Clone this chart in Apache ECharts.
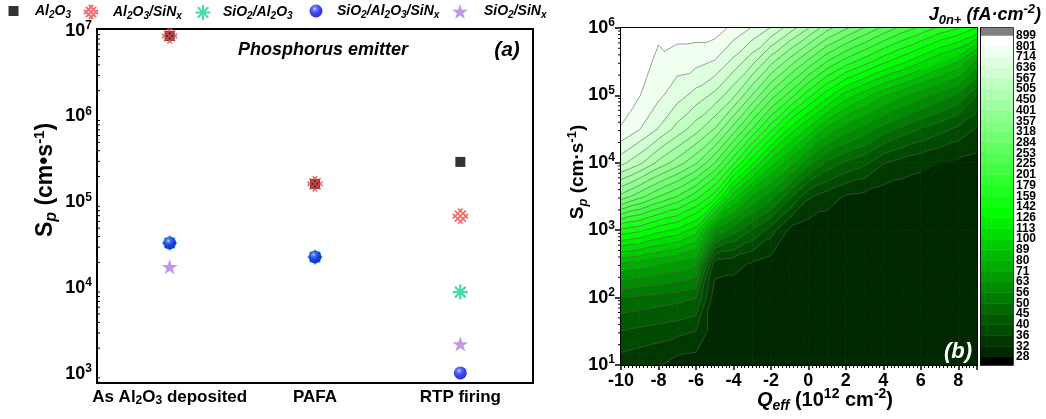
<!DOCTYPE html>
<html>
<head>
<meta charset="utf-8">
<title>Sp and J0n+ chart</title>
<script src="https://cdn.jsdelivr.net/npm/echarts@6.0.0/dist/echarts.min.js"></script>
<style>
html,body{margin:0;padding:0;background:#ffffff;}
#chart{width:1046px;height:419px;}
</style>
</head>
<body>
<div id="chart"></div>
<script>
// ---------------- Panel (a): surface recombination velocity by process step ----------------
const stages = ['As Al2O3 deposited', 'PAFA', 'RTP firing'];
const stackNames = ['Al2O3', 'Al2O3/SiNx', 'SiO2/Al2O3', 'SiO2/Al2O3/SiNx', 'SiO2/SiNx'];
const spAl2O3 = [8.7e6, 1.64e5, 2.96e5];
const spAl2O3SiNx = [8.7e6, 1.64e5, 6.9e4];
const spSiO2Al2O3 = [3.36e4, 2.31e4, 9.0e3];
const spSiO2Al2O3SiNx = [3.36e4, 2.31e4, 1.03e3];
const spSiO2SiNx = [1.77e4, null, 2.24e3];

// ---------------- Panel (b): J0n+ map over Qeff (1e12 cm^-2) and Sp (cm/s) ----------------
const qeffValues = [-10, -9, -8, -7, -6, -5, -4, -3, -2, -1, 0, 1, 2, 3, 4, 5, 6, 7, 8, 9];
const spGridValues = [10, 31.6, 100, 316, 1000, 3162, 10000, 31623, 100000, 316228, 1000000];
// one row per Sp value (bottom to top), one column per Qeff value; J0n+ in fA/cm2
const j0nRows = [
  [33.9, 33.1, 32.4, 30.2, 29.9, 29.5, 29.3, 29.2, 29.2, 29.2, 29.2, 29.2, 29.2, 29.2, 29.2, 29.2, 29.2, 29.2, 29.2, 29.2],
  [39.8, 38.9, 38.0, 37.2, 35.9, 29.7, 29.5, 29.3, 29.3, 29.2, 29.2, 29.2, 29.2, 29.2, 29.2, 29.2, 29.2, 29.2, 29.2, 29.2],
  [50.1, 49.0, 47.9, 46.8, 45.2, 29.9, 29.9, 29.7, 29.5, 29.3, 29.3, 29.2, 29.2, 29.2, 29.2, 29.2, 29.2, 29.2, 29.2, 29.2],
  [79.4, 75.9, 72.4, 69.2, 65.3, 33.9, 33.1, 31.6, 30.2, 29.7, 29.5, 29.3, 29.3, 29.2, 29.2, 29.2, 29.2, 29.2, 29.2, 29.2],
  [154.9, 146.2, 131.8, 123.0, 107.2, 63.1, 53.1, 44.7, 38.0, 31.3, 29.9, 29.5, 29.5, 29.3, 29.2, 29.2, 29.2, 29.2, 29.2, 29.2],
  [342.7, 295.1, 254.1, 223.9, 188.4, 149.6, 94.4, 70.8, 59.6, 46.2, 36.7, 33.9, 31.6, 30.9, 30.0, 29.7, 29.5, 29.3, 29.2, 29.2],
  [588.8, 518.8, 436.5, 380.2, 323.6, 254.1, 184.1, 130.3, 94.4, 75.9, 58.9, 49.0, 44.2, 41.2, 36.3, 34.3, 33.1, 32.0, 31.3, 30.6],
  [797.0, 716.1, 631.0, 543.3, 473.2, 398.1, 302.0, 223.9, 165.9, 123.0, 97.7, 77.6, 66.8, 60.3, 53.1, 48.4, 44.7, 41.7, 38.9, 35.5],
  [831.8, 803.5, 732.8, 668.3, 609.5, 549.5, 462.4, 354.8, 269.2, 213.8, 165.9, 131.8, 107.2, 93.3, 81.3, 73.3, 66.1, 60.3, 55.0, 45.2],
  [851.1, 841.4, 780.7, 749.9, 740.0, 707.9, 616.6, 524.8, 416.9, 338.8, 275.4, 223.9, 190.5, 167.9, 146.2, 130.3, 114.8, 100.0, 89.1, 67.6],
  [871.0, 861.0, 822.2, 850.0, 850.0, 850.0, 776.2, 707.9, 631.0, 537.0, 451.9, 371.5, 323.6, 281.8, 245.5, 216.3, 195.0, 173.8, 160.3, 141.3]
];
const j0nLevels = [28, 32, 36, 40, 45, 50, 56, 63, 71, 80, 89, 100, 113, 126, 142, 159, 179, 201, 225, 253, 284, 318, 357, 401, 450, 505, 567, 636, 714, 801, 899];
// colour for: below 28, the 30 level bands, above 899
const bandColors = ['#000000',
  '#002800', '#003800', '#004900', '#005900', '#006a00', '#007a00', '#008b00', '#009b00', '#00ac00', '#00bc00',
  '#00cd00', '#00dd00', '#00ee00', '#00ff00', '#10ff10', '#20ff20', '#30ff30', '#40ff40', '#50ff50', '#60ff60',
  '#70ff70', '#80ff80', '#90ff90', '#a0ffa0', '#b0ffb0', '#c0ffc0', '#d0ffd0', '#e0ffe0', '#f0fff0', '#ffffff',
  '#808080'];

// ---------------- helpers ----------------
const FONT = "'Liberation Sans', Arial, Helvetica, sans-serif";

function chemRich(text, n, s) {
  let out = '', run = '', runSub = false;
  const flush = () => { if (run) out += '{' + (runSub ? s : n) + '|' + run + '}'; run = ''; };
  for (let i = 0; i < text.length; i++) {
    const ch = text[i];
    const sub = /[0-9]/.test(ch) || (ch === 'x' && text[i - 1] === 'N');
    if (sub !== runSub) { flush(); runSub = sub; }
    run += ch;
  }
  flush();
  return out;
}
function powLabel(v) {
  const e = Math.log10(v);
  const r = Math.round(e);
  if (Math.abs(e - r) > 1e-6) return '';
  return '{b|10}{s|' + r + '}';
}
function logMinor(lo, hi) {
  const out = [];
  for (let e = Math.floor(Math.log10(lo)); e <= Math.ceil(Math.log10(hi)); e++) {
    for (let m = 2; m <= 9; m++) { const v = m * Math.pow(10, e); if (v > lo && v < hi) out.push(v); }
  }
  return out;
}

// ---------------- contour geometry ----------------
const LOG_LEVELS = j0nLevels.map(v => Math.log10(v));
const sLog = spGridValues.map(v => Math.log10(v));
const vLog = j0nRows.map(r => r.map(v => Math.log10(v)));
function bandOf(v) { let b = 0; while (b < LOG_LEVELS.length && v >= LOG_LEVELS[b]) b++; return b; }
function clipHalf(poly, lev, keepAbove) {
  const out = [], n = poly.length;
  for (let i = 0; i < n; i++) {
    const a = poly[i], b = poly[(i + 1) % n];
    const da = keepAbove ? a[2] - lev : lev - a[2];
    const db = keepAbove ? b[2] - lev : lev - b[2];
    if (da >= 0) out.push(a);
    if ((da >= 0) !== (db >= 0)) {
      const t = da / (da - db);
      out.push([a[0] + t * (b[0] - a[0]), a[1] + t * (b[1] - a[1]), lev]);
    }
  }
  return out;
}
function cellTriangles(i, j) {
  const P = (ii, jj) => [qeffValues[ii], sLog[jj], vLog[jj][ii]];
  const a = P(i, j), b = P(i + 1, j), c = P(i + 1, j + 1), d = P(i, j + 1);
  return [[a, b, c], [a, c, d]];
}
function toPx(api, p) { return api.coord([p[0], Math.pow(10, p[1])]); }

const cellData = [];
for (let j = 0; j < spGridValues.length - 1; j++) {
  for (let i = 0; i < qeffValues.length - 1; i++) cellData.push([qeffValues[i], spGridValues[j], i, j]);
}

function renderFill(params, api) {
  const i = api.value(2), j = api.value(3);
  const children = [];
  cellTriangles(i, j).forEach(tri => {
    const vs = tri.map(p => p[2]);
    const b0 = bandOf(Math.min.apply(null, vs)), b1 = bandOf(Math.max.apply(null, vs));
    for (let b = b0; b <= b1; b++) {
      let poly = tri;
      if (b > 0) poly = clipHalf(poly, LOG_LEVELS[b - 1], true);
      if (poly.length >= 3 && b < LOG_LEVELS.length) poly = clipHalf(poly, LOG_LEVELS[b], false);
      if (poly.length < 3) continue;
      children.push({ type: 'polygon', shape: { points: poly.map(p => toPx(api, p)) },
        style: { fill: bandColors[b], stroke: bandColors[b], lineWidth: 0.8 } });
    }
  });
  return { type: 'group', children };
}
function renderLines(params, api) {
  const i = api.value(2), j = api.value(3);
  const children = [];
  cellTriangles(i, j).forEach(tri => {
    LOG_LEVELS.forEach(lev => {
      const pts = [];
      for (let e = 0; e < 3; e++) {
        const a = tri[e], b = tri[(e + 1) % 3];
        if ((a[2] - lev) * (b[2] - lev) < 0) {
          const t = (lev - a[2]) / (b[2] - a[2]);
          pts.push([a[0] + t * (b[0] - a[0]), a[1] + t * (b[1] - a[1])]);
        }
      }
      if (pts.length === 2) {
        const p0 = toPx(api, pts[0]), p1 = toPx(api, pts[1]);
        children.push({ type: 'line', shape: { x1: p0[0], y1: p0[1], x2: p1[0], y2: p1[1] },
          style: { stroke: 'rgba(80,80,80,0.8)', lineWidth: 0.7 } });
      }
    });
  });
  return { type: 'group', children };
}
function renderBand(params, api) {
  const idx = api.value(1);
  const p0 = api.coord([0, idx]), p1 = api.coord([1, idx + 1]);
  return { type: 'rect', shape: { x: p0[0], y: p1[1], width: p1[0] - p0[0], height: p0[1] - p1[1] },
    style: { fill: bandColors[idx], stroke: bandColors[idx], lineWidth: 0.5 } };
}
// minor log ticks on a grid's left edge; dir = +1 inside, -1 outside
function minorTickRenderer(dir, len) {
  return function (params, api) {
    const cs = params.coordSys;
    const y = api.coord([api.value(0), api.value(1)])[1];
    return { type: 'line', shape: { x1: cs.x, y1: y, x2: cs.x + dir * len, y2: y },
      style: { stroke: '#000', lineWidth: 1 } };
  };
}

// ---------------- markers ----------------
const SYM_LATTICE = 'path://M0.3 4.3L7.7 11.7M1.8 1.8L10.2 10.2M4.3 0.3L11.7 7.7M0.3 7.7L7.7 0.3M1.8 10.2L10.2 1.8M4.3 11.7L11.7 4.3';
const SYM_ASTER = 'path://M6 0L6 12M0 6L12 6M1.76 1.76L10.24 10.24M1.76 10.24L10.24 1.76';
const SYM_STAR = 'path://M50 2L61.8 36.2L97.6 36.2L68.6 57.4L79.6 91.6L50 70.4L20.4 91.6L31.4 57.4L2.4 36.2L38.2 36.2Z';
const sphereFill = { type: 'radial', x: 0.4, y: 0.33, r: 0.72,
  colorStops: [{ offset: 0, color: '#dfe4ff' }, { offset: 0.18, color: '#4a64ff' }, { offset: 0.55, color: '#0612f2' }, { offset: 1, color: '#0000a8' }] };

function scatterSeries(name, values, symbol, size, itemStyle) {
  return {
    type: 'scatter', name, xAxisIndex: 0, yAxisIndex: 0, symbol, symbolSize: size, symbolKeepAspect: true,
    itemStyle, emphasis: { disabled: true }, silent: true,
    data: values.map((v, i) => (v == null ? null : [stages[i], v])).filter(d => d)
  };
}

// ---------------- legend ----------------
const legendRich = {
  n: { fontSize: 14, fontWeight: 'bold', fontStyle: 'italic', fontFamily: FONT, color: '#000', lineHeight: 18, verticalAlign: 'middle' },
  s: { fontSize: 10, fontWeight: 'bold', fontStyle: 'italic', fontFamily: FONT, color: '#000', lineHeight: 8, verticalAlign: 'bottom' }
};
const legendIconX = [13.5, 90, 202, 316, 460];
const legendTextX = [35, 112, 222, 337, 484];
const legendIconSize = [10, 14, 15, 13, 16];
const legends = stackNames.map((name, k) => ({
  data: [name], left: legendIconX[k] - legendIconSize[k] / 2, top: 4, padding: 0, itemGap: 0,
  itemWidth: legendIconSize[k], itemHeight: legendIconSize[k], selectedMode: false,
  formatter: nm => '{g| }' + chemRich(nm, 'n', 's'),
  textStyle: { rich: Object.assign({ g: { width: legendTextX[k] - (legendIconX[k] + legendIconSize[k] / 2 + 5) } }, legendRich) }
}));

// ---------------- axes ----------------
const tickRich18 = {
  b: { fontSize: 18, fontWeight: 'bold', fontFamily: FONT, color: '#000', lineHeight: 22, verticalAlign: 'middle' },
  s: { fontSize: 12, fontWeight: 'bold', fontFamily: FONT, color: '#000', lineHeight: 12, verticalAlign: 'top' }
};
const A_MIN = 785, A_MAX = 1.047e7;
const B_MIN = 10, B_MAX = 1e6;
const colorbarTicks = j0nLevels.map((v, k) => k + 1);
const colorbarOdd = colorbarTicks.filter(k => k % 2 === 1);
const colorbarEven = colorbarTicks.filter(k => k % 2 === 0);
const levelLabel = v => { const k = Math.round(v); return (k >= 1 && k <= j0nLevels.length) ? String(j0nLevels[k - 1]) : ''; };
const cbLabelStyle = { margin: 3, fontSize: 12, fontWeight: 'bold', color: '#000', fontFamily: FONT,
  showMinLabel: true, showMaxLabel: true, formatter: levelLabel };

const option = {
  animation: false,
  backgroundColor: '#ffffff',
  textStyle: { fontFamily: FONT },
  legend: legends,
  grid: [
    { left: 97, top: 29, width: 436, height: 354, show: true, borderColor: '#000', borderWidth: 2, backgroundColor: 'transparent' },
    { left: 621, top: 28, width: 356, height: 337, show: true, borderColor: '#000', borderWidth: 2, backgroundColor: 'transparent' },
    { left: 981, top: 28, width: 32, height: 337, show: true, borderColor: '#000', borderWidth: 1.5, backgroundColor: 'transparent' }
  ],
  xAxis: [
    { gridIndex: 0, type: 'category', data: stages,
      axisLine: { lineStyle: { color: '#000', width: 2 } },
      axisTick: { inside: true, alignWithLabel: true, length: 6, lineStyle: { color: '#000', width: 1.5 } },
      axisLabel: { interval: 0, margin: 4, color: '#000', formatter: v => chemRich(v, 'n', 's'),
        rich: {
          n: { fontSize: 17, fontWeight: 'bold', fontFamily: FONT, color: '#000', lineHeight: 20, verticalAlign: 'middle' },
          s: { fontSize: 12, fontWeight: 'bold', fontFamily: FONT, color: '#000', lineHeight: 10, verticalAlign: 'bottom' }
        } },
      splitLine: { show: false } },
    { gridIndex: 1, type: 'value', min: -10, max: 9, interval: 2,
      axisLine: { onZero: false, lineStyle: { color: '#000', width: 2 } },
      axisTick: { inside: false, length: 5, lineStyle: { color: '#000', width: 1.5 } },
      minorTick: { show: true, splitNumber: 10, length: 3, lineStyle: { color: '#000', width: 1 } },
      axisLabel: { margin: 7, fontSize: 18, fontWeight: 'bold', color: '#000', fontFamily: FONT,
        formatter: v => (Math.abs(v % 2) < 1e-9 ? String(v) : '') },
      splitLine: { show: false } },
    { gridIndex: 2, type: 'value', min: 0, max: 1, show: false }
  ],
  yAxis: [
    { gridIndex: 0, type: 'log', min: A_MIN, max: A_MAX,
      axisLine: { show: true, onZero: false, lineStyle: { color: '#000', width: 2 } },
      axisTick: { inside: true, length: 6, lineStyle: { color: '#000', width: 1.5 } },
      axisLabel: { margin: 5, formatter: powLabel, rich: tickRich18 },
      splitLine: { show: false } },
    { gridIndex: 0, type: 'log', min: A_MIN, max: A_MAX, position: 'right',
      axisLine: { show: true, onZero: false, lineStyle: { color: '#000', width: 2 } },
      axisTick: { inside: true, length: 5, lineStyle: { color: '#000', width: 1.5 } },
      axisLabel: { show: false }, splitLine: { show: false } },
    { gridIndex: 1, type: 'log', min: B_MIN, max: B_MAX,
      axisLine: { show: true, onZero: false, lineStyle: { color: '#000', width: 2 } },
      axisTick: { inside: false, length: 6, lineStyle: { color: '#000', width: 1.5 } },
      axisLabel: { margin: 6, formatter: powLabel, rich: tickRich18 },
      splitLine: { show: false } },
    { gridIndex: 2, type: 'value', min: 0.25, max: 31.7, position: 'right',
      axisLine: { show: true, lineStyle: { color: '#000', width: 1.5 } },
      axisTick: { show: true, inside: false, length: 4, customValues: colorbarTicks, lineStyle: { color: '#000', width: 1 } },
      axisLabel: Object.assign({ customValues: colorbarOdd }, cbLabelStyle),
      splitLine: { show: false } },
    { gridIndex: 2, type: 'value', min: 0.25, max: 31.7, position: 'right', offset: 0,
      axisLine: { show: false }, axisTick: { show: false },
      axisLabel: Object.assign({ customValues: colorbarEven }, cbLabelStyle),
      splitLine: { show: false } }
  ],
  series: [
    scatterSeries('Al2O3', spAl2O3, 'rect', 10, { color: '#000000' }),
    scatterSeries('Al2O3/SiNx', spAl2O3SiNx, SYM_LATTICE, 15, { color: 'transparent', borderColor: '#f04646', borderWidth: 1.7 }),
    scatterSeries('SiO2/Al2O3', spSiO2Al2O3, SYM_ASTER, 15, { color: 'transparent', borderColor: '#12d68d', borderWidth: 2.2 }),
    scatterSeries('SiO2/Al2O3/SiNx', spSiO2Al2O3SiNx, 'circle', 13, { color: sphereFill }),
    scatterSeries('SiO2/SiNx', spSiO2SiNx, SYM_STAR, 16, { color: '#b07ee3' }),
    { type: 'custom', name: 'minor ticks a', xAxisIndex: 0, yAxisIndex: 0, coordinateSystem: 'cartesian2d', clip: false,
      encode: { x: 0, y: 1 }, data: logMinor(A_MIN, A_MAX).map(v => [stages[0], v]), renderItem: minorTickRenderer(1, 3), silent: true, z: 5 },
    { type: 'custom', name: 'J0n+ fill', xAxisIndex: 1, yAxisIndex: 2, coordinateSystem: 'cartesian2d', clip: true,
      encode: { x: 0, y: 1 }, data: cellData, renderItem: renderFill, silent: true, z: 1 },
    { type: 'custom', name: 'J0n+ lines', xAxisIndex: 1, yAxisIndex: 2, coordinateSystem: 'cartesian2d', clip: true,
      encode: { x: 0, y: 1 }, data: cellData, renderItem: renderLines, silent: true, z: 2 },
    { type: 'custom', name: 'minor ticks b', xAxisIndex: 1, yAxisIndex: 2, coordinateSystem: 'cartesian2d', clip: false,
      encode: { x: 0, y: 1 }, data: logMinor(B_MIN, B_MAX).map(v => [qeffValues[0], v]), renderItem: minorTickRenderer(-1, 3), silent: true, z: 5 },
    { type: 'custom', name: 'colour scale', xAxisIndex: 2, yAxisIndex: 3, coordinateSystem: 'cartesian2d', clip: true,
      encode: { x: 0, y: 1 }, data: bandColors.map((c, idx) => [0.5, idx]), renderItem: renderBand, silent: true }
  ],
  graphic: [
    { type: 'text', x: 323, y: 50, style: { text: 'Phosphorus emitter', fill: '#000', font: "italic bold 18px " + FONT, align: 'center', verticalAlign: 'middle' } },
    { type: 'text', x: 507, y: 50, style: { text: '(a)', fill: '#000', font: "italic bold 21px " + FONT, align: 'center', verticalAlign: 'middle' } },
    { type: 'text', x: 958, y: 352, z: 100, style: { text: '(b)', fill: '#ffffff', font: "italic bold 22px " + FONT, align: 'center', verticalAlign: 'middle' } },
    { type: 'text', x: 46, y: 180, rotation: Math.PI / 2, style: {
        text: '{m|S}{p|p}{m| (cm•s}{u|-1}{m|)}', align: 'center', verticalAlign: 'middle',
        rich: {
          m: { fontSize: 23, fontWeight: 'bold', fontFamily: FONT, fill: '#000', lineHeight: 28, verticalAlign: 'middle' },
          p: { fontSize: 16, fontWeight: 'bold', fontStyle: 'italic', fontFamily: FONT, fill: '#000', lineHeight: 12, verticalAlign: 'bottom' },
          u: { fontSize: 15, fontWeight: 'bold', fontFamily: FONT, fill: '#000', lineHeight: 16, verticalAlign: 'top' } } } },
    { type: 'text', x: 578, y: 172, rotation: Math.PI / 2, style: {
        text: '{m|S}{p|p}{m| (cm·s}{u|-1}{m|)}', align: 'center', verticalAlign: 'middle',
        rich: {
          m: { fontSize: 19, fontWeight: 'bold', fontFamily: FONT, fill: '#000', lineHeight: 24, verticalAlign: 'middle' },
          p: { fontSize: 13, fontWeight: 'bold', fontStyle: 'italic', fontFamily: FONT, fill: '#000', lineHeight: 10, verticalAlign: 'bottom' },
          u: { fontSize: 13, fontWeight: 'bold', fontFamily: FONT, fill: '#000', lineHeight: 13, verticalAlign: 'top' } } } },
    { type: 'text', x: 825, y: 400, style: {
        text: '{q|Q}{e|eff}{m| (10}{u|12}{m| cm}{u|-2}{m|)}', align: 'center', verticalAlign: 'middle',
        rich: {
          q: { fontSize: 20, fontWeight: 'bold', fontStyle: 'italic', fontFamily: FONT, fill: '#000', lineHeight: 26, verticalAlign: 'middle' },
          m: { fontSize: 20, fontWeight: 'bold', fontFamily: FONT, fill: '#000', lineHeight: 26, verticalAlign: 'middle' },
          e: { fontSize: 14, fontWeight: 'bold', fontStyle: 'italic', fontFamily: FONT, fill: '#000', lineHeight: 11, verticalAlign: 'bottom' },
          u: { fontSize: 14, fontWeight: 'bold', fontFamily: FONT, fill: '#000', lineHeight: 14, verticalAlign: 'top' } } } },
    { type: 'text', x: 1041, y: 15, style: {
        text: '{j|J}{s|0n+}{m| (fA·cm}{u|-2}{m|)}', align: 'right', verticalAlign: 'middle',
        rich: {
          j: { fontSize: 18, fontWeight: 'bold', fontStyle: 'italic', fontFamily: FONT, fill: '#000', lineHeight: 24, verticalAlign: 'middle' },
          m: { fontSize: 18, fontWeight: 'bold', fontStyle: 'italic', fontFamily: FONT, fill: '#000', lineHeight: 24, verticalAlign: 'middle' },
          s: { fontSize: 13, fontWeight: 'bold', fontStyle: 'italic', fontFamily: FONT, fill: '#000', lineHeight: 10, verticalAlign: 'bottom' },
          u: { fontSize: 13, fontWeight: 'bold', fontStyle: 'italic', fontFamily: FONT, fill: '#000', lineHeight: 13, verticalAlign: 'top' } } } }
  ]
};

const chart = echarts.init(document.getElementById('chart'), null, { renderer: 'canvas' });
chart.setOption(option);
</script>
</body>
</html>
